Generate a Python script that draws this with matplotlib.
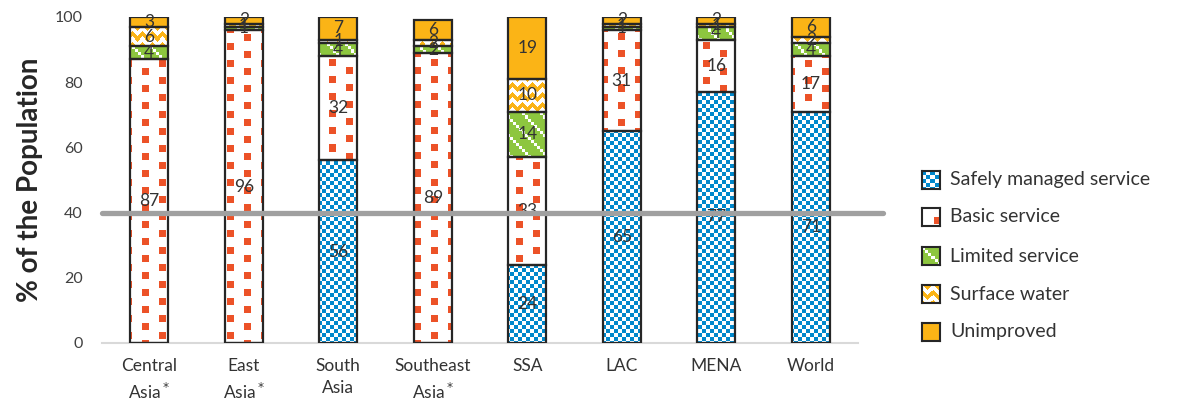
import numpy as np
import matplotlib
matplotlib.use('Agg')
import matplotlib.pyplot as plt

# dados
regioes = ['Central\nAsia$^*$', 'East\nAsia$^*$', 'South\nAsia', 'Southeast\nAsia$^*$',
           'SSA', 'LAC', 'MENA', 'World']
safe = [0, 0, 56, 0, 24, 65, 77, 71]
basic = [87, 96, 32, 89, 33, 31, 16, 17]
limited = [4, 1, 4, 2, 14, 1, 4, 4]
surface = [6, 1, 1, 2, 10, 1, 1, 2]
unimproved = [3, 2, 7, 6, 19, 2, 2, 6]
series = ['Safely managed service', 'Basic service', 'Limited service',
          'Surface water', 'Unimproved']

plt.rcParams['font.family'] = ['Lato', 'DejaVu Sans']
plt.rcParams['mathtext.fontset'] = 'dejavusans'

DPI = 100
FW, FH = 1184, 403
L, R, B, T = 102, 858, 343, 17   # axes em pixels (origem no topo)
fig = plt.figure(figsize=(FW / DPI, FH / DPI), dpi=DPI)
ax = fig.add_axes([L / FW, 1 - B / FH, (R - L) / FW, (B - T) / FH])

W, H = R - L, B - T
yy, xx = np.mgrid[0:H, 0:W]

BLUE = np.array([0, 136, 204])
RED = np.array([236, 82, 40])
GREEN = np.array([141, 198, 63])
ORANGE = np.array([251, 180, 22])
WHITE = np.array([255, 255, 255])


def padrao(mask, cor, fundo=WHITE):
    img = np.empty((H, W, 3), dtype=np.uint8)
    img[:] = fundo
    img[mask] = cor
    return img


# xadrez azul
p_safe = padrao(((xx // 4 + yy // 4) % 2) == 0, BLUE)
# quadrados vermelhos alternados
cx = (xx - 6) % 34
p_basic = padrao(((cx < 7) & (yy % 17 < 7)) | ((cx >= 17) & (cx < 24) & ((yy + 8) % 17 < 7)), RED)
# verde com quadradinhos brancos em diagonal
p_lim = padrao(((xx // 3 - yy // 3) % 3 == 0) & ((xx // 3 + yy // 3) % 2 == 0), WHITE, GREEN)
# zigue-zague laranja
tri = np.abs((xx % 10) - 5)
p_surf = padrao(((yy + tri) % 10) < 5, ORANGE)
p_unimp = padrao(np.ones((H, W), bool), ORANGE)
padroes = [p_safe, p_basic, p_lim, p_surf, p_unimp]

x = np.arange(len(regioes))
base = np.zeros(len(regioes))
for vals, pad in zip([safe, basic, limited, surface, unimproved], padroes):
    vals = np.array(vals, dtype=float)
    bars = ax.bar(x, vals, 0.4, bottom=base, facecolor='none',
                  edgecolor='#262626', linewidth=1.6, zorder=3)
    for rect, v, b0, xi in zip(bars, vals, base, x):
        if v <= 0:
            continue
        im = ax.imshow(pad, extent=(-0.5, 7.5, 0, 100), aspect='auto',
                       interpolation='nearest', origin='upper', zorder=2)
        im.set_clip_path(rect)
        ax.text(xi, b0 + v / 2, '%d' % v, ha='center', va='center',
                fontsize=12.5, color='#333333', zorder=4)
    base += vals

ax.set_xlim(-0.5, 7.5)
ax.set_ylim(0, 100)
ax.set_yticks(range(0, 101, 20))
ax.set_xticks(x)
ax.set_xticklabels(regioes, fontsize=12.5, color='#333333', linespacing=1.45)
ax.tick_params(axis='y', length=0, labelsize=11.5, labelcolor='#404040', pad=14)
ax.tick_params(axis='x', length=0, pad=11)
for s in ['top', 'right', 'left']:
    ax.spines[s].set_visible(False)
ax.spines['bottom'].set_color('#D9D9D9')
ax.spines['bottom'].set_linewidth(1.5)
ax.set_ylabel('% of the Population', fontsize=20, fontweight='bold',
              color='#262626', labelpad=8)

# linha de referencia em 40%
ax.plot([0, 1.033], [40, 40], transform=ax.get_yaxis_transform(), color='#A0A0A0',
        linewidth=3.8, solid_capstyle='round', clip_on=False, zorder=6)

# legenda manual com os padroes
linhas = [180, 217, 256, 294, 332]
for nome, pad, yc in zip(series, padroes, linhas):
    lax = fig.add_axes([922 / FW, 1 - (yc + 9) / FH, 18 / FW, 18 / FH])
    if nome == 'Basic service':
        lax.imshow(pad[0:18, 46:64], interpolation='nearest')
    else:
        lax.imshow(pad[0:18, 0:18], interpolation='nearest')
    lax.set_xticks([])
    lax.set_yticks([])
    for s in lax.spines.values():
        s.set_color('#262626')
        s.set_linewidth(1.5)
    fig.text(950 / FW, 1 - yc / FH, nome, fontsize=14, color='#333333', va='center')

fig.savefig('out.png', dpi=DPI)
